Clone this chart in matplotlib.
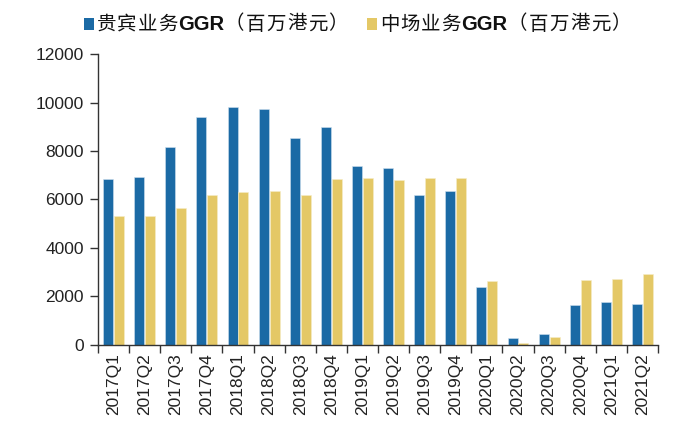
import matplotlib
matplotlib.use("Agg")
import matplotlib.pyplot as plt
from matplotlib.patches import Rectangle
import numpy as np

categories = ["2017Q1", "2017Q2", "2017Q3", "2017Q4", "2018Q1", "2018Q2", "2018Q3", "2018Q4",
              "2019Q1", "2019Q2", "2019Q3", "2019Q4", "2020Q1", "2020Q2", "2020Q3", "2020Q4",
              "2021Q1", "2021Q2"]
vip_ggr = [6830, 6940, 8160, 9390, 9800, 9720, 8550, 9000,
           7400, 7300, 6200, 6350, 2370, 290, 450, 1630,
           1760, 1680]
mass_ggr = [5320, 5320, 5640, 6200, 6300, 6350, 6170, 6850,
            6900, 6800, 6900, 6900, 2620, 80, 330, 2660,
            2720, 2920]
series_names = [("贵宾业务", "GGR", "（百万港元）"), ("中场业务", "GGR", "（百万港元）")]
yticks = [0, 2000, 4000, 6000, 8000, 10000, 12000]

plt.rcParams['font.family'] = ['Liberation Sans', 'Noto Sans CJK SC', 'DejaVu Sans']

W, H = 678, 429
fig = plt.figure(figsize=(W / 100, H / 100), dpi=100)
ax = fig.add_axes([0.1445, 0.196, 0.826, 0.678])

x = np.arange(len(categories))
w = 0.32
blue = "#1B6AA5"
yellow = "#E4C866"
ax.bar(x - 0.175, vip_ggr, width=w, color=blue, edgecolor="#cfe0ee", linewidth=0.4)
ax.bar(x + 0.175, mass_ggr, width=w, color=yellow, edgecolor="#f5ecc8", linewidth=0.4)

ax.set_xlim(-0.5, len(categories) - 0.5)
ax.set_ylim(0, 12000)
ax.set_yticks(yticks)
ax.set_yticklabels([str(v) for v in yticks], fontsize=12.5, color="#222222")
ax.set_xticks(x)
ax.set_xticklabels(categories, rotation=90, fontsize=12.5, color="#222222")
ax.tick_params(axis='x', length=0, pad=6)
ax.set_xticks(np.arange(-0.5, len(categories), 1), minor=True)
ax.tick_params(axis='x', which='minor', length=6, width=1, color="#333333", direction='out')
ax.tick_params(axis='y', length=6, width=1, color="#333333", direction='out', pad=4)
for s in ['top', 'right']:
    ax.spines[s].set_visible(False)
for s in ['left', 'bottom']:
    ax.spines[s].set_color("#333333")
    ax.spines[s].set_linewidth(1)

# custom legend with slightly spaced CJK characters
renderer = fig.canvas.get_renderer()
cy = 24  # legend vertical center in pixels from top


def put(xpos, s, **kw):
    t = fig.text(xpos / W, 1 - cy / H, s, va='center', ha='left', color="#111111", **kw)
    return t.get_window_extent(renderer).width


def draw_label(x0, head, latin, tail):
    xpos = x0
    for ch in head:
        xpos += put(xpos, ch, fontsize=14, family=['Noto Sans CJK SC'], weight='medium') + 0.8
    xpos += put(xpos, latin, fontsize=14.5, family=['Liberation Sans'], weight='bold') + 0.5
    for ch in tail:
        xpos += put(xpos, ch, fontsize=14, family=['Noto Sans CJK SC'], weight='medium') + 1.2
    return xpos


legend_items = [(84, blue, series_names[0]), (367, yellow, series_names[1])]
for sx, col, (a, b, c) in legend_items:
    fig.patches.append(Rectangle((sx / W, 1 - (cy + 5.5) / H), 10 / W, 11 / H,
                                 transform=fig.transFigure, facecolor=col, edgecolor='none'))
    draw_label(sx + 13, a, b, c)

fig.savefig("out.png", dpi=100)
